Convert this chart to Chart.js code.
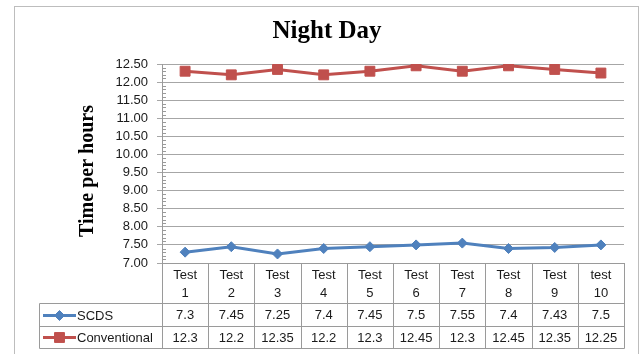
<!DOCTYPE html>
<html>
<head>
<meta charset="utf-8">
<title>Night Day</title>
<script src="https://cdn.jsdelivr.net/npm/chart.js@4"></script>
<style>
  html, body { margin: 0; padding: 0; background: #fff; overflow: hidden; }
  canvas { display: block; }
</style>
</head>
<body>
<canvas id="nightChart" width="642" height="354"></canvas>
<script>
// ---- data ----
const categories = ['Test 1', 'Test 2', 'Test 3', 'Test 4', 'Test 5', 'Test 6', 'Test 7', 'Test 8', 'Test 9', 'test 10'];
const scdsValues = [7.3, 7.45, 7.25, 7.4, 7.45, 7.5, 7.55, 7.4, 7.43, 7.5];
const conventionalValues = [12.3, 12.2, 12.35, 12.2, 12.3, 12.45, 12.3, 12.45, 12.35, 12.25];
const seriesNames = ['SCDS', 'Conventional'];
const yTitle = 'Time per hours';
const yMin = 7.0, yMax = 12.5, yStep = 0.5, yMinorStep = 0.1;

const BLUE = '#4f81bd';
const RED = '#c0504d';
const GRID = '#a6a6a6';
const LINE_GRAY = '#9a9a9a';
const TEXT = '#1a1a1a';
const TABLE_FONT = '13px "Liberation Sans", Arial, sans-serif';
const SERIF = '"Liberation Serif", "Times New Roman", serif';

/* ============ outer frame ============ */
const framePlugin = {
    id: 'frame',
    beforeDraw(chart) {
        const ctx = chart.ctx;
        ctx.save();
        ctx.fillStyle = '#fff';
        ctx.fillRect(0, 0, chart.width, chart.height);
        ctx.strokeStyle = '#bdbdbd';
        ctx.lineWidth = 1;
        ctx.strokeRect(14.5, 6.5, 624, 400);
        ctx.restore();
    }
};

/* ============ y title + minor ticks ============ */
const yAxisExtrasPlugin = {
    id: 'yAxisExtras',
    afterDraw(chart) {
        const ctx = chart.ctx, y = chart.scales.y, x0 = chart.chartArea.left;
        ctx.save();
        ctx.strokeStyle = LINE_GRAY;
        ctx.lineWidth = 1;
        ctx.beginPath();
        for (let i = 0; i <= Math.round((yMax - yMin) / yMinorStep); i++) {
            if (i % 5 === 0) continue;
            const py = Math.round(y.getPixelForValue(yMin + i * yMinorStep)) + 0.5;
            ctx.moveTo(x0, py);
            ctx.lineTo(x0 + 4, py);
        }
        ctx.stroke();

        // axis title, rotated
        ctx.translate(88, 171);
        ctx.rotate(-Math.PI / 2);
        ctx.fillStyle = '#000';
        ctx.font = 'bold 20px ' + SERIF;
        ctx.textAlign = 'center';
        ctx.textBaseline = 'middle';
        ctx.fillText(yTitle, 0, 0);
        ctx.restore();
    }
};

/* ============ data table under the plot ============ */
const dataTablePlugin = {
    id: 'dataTable',
    afterDraw(chart) {
        const ctx = chart.ctx, area = chart.chartArea, xs = chart.scales.x;
        const n = categories.length;
        const colW = (area.right - area.left) / n;
        const tableLeft = 39.5;
        const rowTop = [area.bottom, area.bottom + 40, area.bottom + 63, area.bottom + 85];
        const px = v => Math.round(v) + 0.5;

        ctx.save();
        ctx.strokeStyle = LINE_GRAY;
        ctx.lineWidth = 1;
        ctx.beginPath();
        // verticals at column boundaries
        for (let k = 0; k <= n; k++) {
            const x = px(area.left + k * colW);
            ctx.moveTo(x, px(rowTop[0]));
            ctx.lineTo(x, px(rowTop[3]));
        }
        ctx.moveTo(tableLeft, px(rowTop[1]));
        ctx.lineTo(tableLeft, px(rowTop[3]));
        // horizontals
        for (let r = 1; r <= 3; r++) {
            ctx.moveTo(tableLeft, px(rowTop[r]));
            ctx.lineTo(px(area.right), px(rowTop[r]));
        }
        ctx.stroke();

        ctx.fillStyle = TEXT;
        ctx.font = TABLE_FONT;
        ctx.textAlign = 'center';
        ctx.textBaseline = 'middle';
        // header: two lines per category
        categories.forEach((c, i) => {
            const cx = xs.getPixelForValue(i);
            const parts = c.split(' ');
            ctx.fillText(parts[0], cx, rowTop[0] + 12);
            ctx.fillText(parts[1], cx, rowTop[0] + 30);
        });
        // value rows
        const rows = [scdsValues, conventionalValues];
        rows.forEach((vals, r) => {
            const cy = (rowTop[r + 1] + rowTop[r + 2]) / 2;
            vals.forEach((v, i) => {
                ctx.fillText(String(v), xs.getPixelForValue(i), cy + 1);
            });
        });
        // legend keys
        ctx.textAlign = 'left';
        chart.data.datasets.forEach((ds, r) => {
            const cy = Math.round((rowTop[r + 1] + rowTop[r + 2]) / 2) + 0.5;
            ctx.strokeStyle = ds.borderColor;
            ctx.lineWidth = 3;
            ctx.beginPath();
            ctx.moveTo(43, cy);
            ctx.lineTo(76, cy);
            ctx.stroke();
            ctx.fillStyle = ds.pointBackgroundColor;
            ctx.strokeStyle = ds.pointBorderColor;
            ctx.lineWidth = 1;
            Chart.helpers.drawPoint(ctx, {
                pointStyle: ds.pointStyle, radius: ds.pointRadius, borderWidth: 1, rotation: 0
            }, 59.5, cy);
            ctx.fillStyle = TEXT;
            ctx.fillText(seriesNames[r], 77, cy + 1);
        });
        ctx.restore();
    }
};

/* ============ chart ============ */
const ctx = document.getElementById('nightChart').getContext('2d');
const chart = new Chart(ctx, {
    type: 'line',
    data: {
        labels: categories,
        datasets: [
            {
                label: seriesNames[0],
                data: scdsValues,
                borderColor: BLUE,
                backgroundColor: BLUE,
                borderWidth: 3,
                pointStyle: 'rectRot',
                pointRadius: 5,
                pointBackgroundColor: BLUE,
                pointBorderColor: BLUE,
                pointBorderWidth: 1,
                tension: 0
            },
            {
                label: seriesNames[1],
                data: conventionalValues,
                borderColor: RED,
                backgroundColor: RED,
                borderWidth: 3,
                pointStyle: 'rect',
                pointRadius: 7,
                pointBackgroundColor: RED,
                pointBorderColor: RED,
                pointBorderWidth: 1,
                tension: 0
            }
        ]
    },
    options: {
        responsive: false,
        animation: false,
        devicePixelRatio: 1,
        layout: { padding: { left: 30, right: 18, top: 7, bottom: 91 } },
        plugins: {
            legend: { display: false },
            tooltip: { enabled: false },
            title: {
                display: true,
                text: 'Night Day',
                color: '#000',
                font: { family: SERIF, size: 25, weight: 'bold' },
                padding: { top: 10, bottom: 17 }
            }
        },
        scales: {
            x: {
                type: 'category',
                offset: true,
                grid: { display: false, drawTicks: false },
                border: { display: true, color: LINE_GRAY },
                ticks: { display: false }
            },
            y: {
                min: yMin,
                max: yMax,
                afterFit: s => { s.width = 132; },
                grid: { color: GRID, tickLength: 5, drawTicks: true },
                border: { display: true, color: LINE_GRAY },
                ticks: {
                    stepSize: yStep,
                    autoSkip: false,
                    padding: 9,
                    color: TEXT,
                    font: { family: '"Liberation Sans", Arial, sans-serif', size: 13 },
                    callback: v => v.toFixed(2)
                }
            }
        }
    },
    plugins: [framePlugin, yAxisExtrasPlugin, dataTablePlugin]
});
</script>
</body>
</html>
